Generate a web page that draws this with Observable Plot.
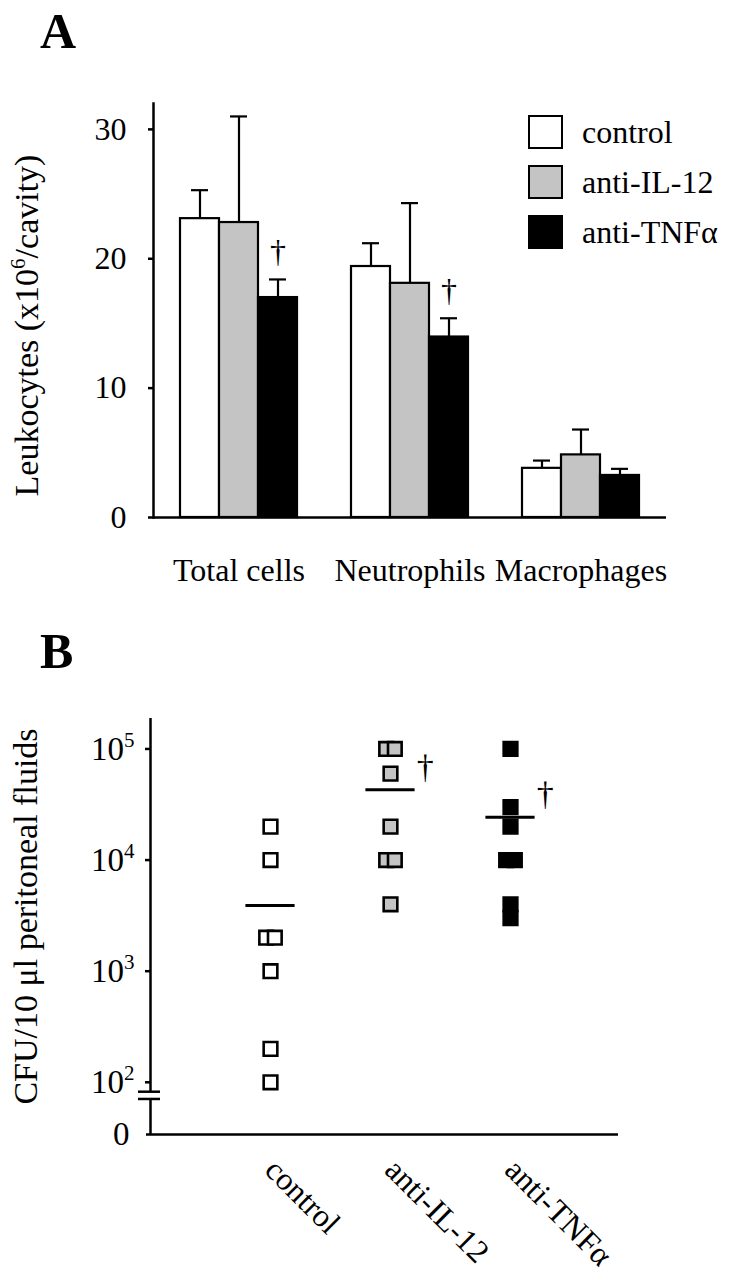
<!DOCTYPE html>
<html>
<head>
<meta charset="utf-8">
<script src="https://cdn.jsdelivr.net/npm/d3@7"></script>
<script src="https://cdn.jsdelivr.net/npm/@observablehq/plot@0.6"></script>
<style>
  html, body { margin: 0; padding: 0; background: white; }
  #page { position: relative; width: 733px; height: 1280px; background: white; overflow: hidden;
          font-family: "Liberation Serif", "Times New Roman", serif; color: black; }
  .panel-letter { position: absolute; left: 40px; font-weight: bold; font-size: 50px; line-height: 1; }
  #chartA, #chartB { position: absolute; left: 0; }
  #chartA { top: 0; }
  #chartB { top: 620px; }
  #legend { position: absolute; left: 528px; top: 115px; }
  .lg-row { display: flex; align-items: flex-start; height: 50px; }
  .lg-sw { width: 35px; height: 34px; box-sizing: border-box; border: 2.5px solid black; }
  .lg-tx { margin-left: 19px; font-size: 32px; line-height: 34px; }
  svg g[aria-label$="-axis tick"], svg g[aria-label$="-axis tick"] * { stroke-width: 2.5px; }
  svg g[aria-label="frame"], svg g[aria-label="frame"] * { stroke-width: 2.5px; }
</style>
</head>
<body>
<div id="page">
  <div class="panel-letter" style="top:6px">A</div>
  <div class="panel-letter" style="top:626px">B</div>
  <div id="chartA"></div>
  <div id="legend"></div>
  <div id="chartB"></div>
</div>
<script>
// ---------- Panel A data ----------
const cellTypes = ["Total cells", "Neutrophils", "Macrophages"];
const treatments = ["control", "anti-IL-12", "anti-TNFα"];
const treatmentFills = ["white", "#c4c4c4", "black"];
const meanTotal = [23.1, 22.8, 17.0];
const errTotal = [2.2, 8.2, 1.4];
const meanNeut = [19.4, 18.1, 13.95];
const errNeut = [1.8, 6.2, 1.45];
const meanMac = [3.8, 4.84, 3.25];
const errMac = [0.6, 1.96, 0.51];
const daggerCellTypes = ["Total cells", "Neutrophils"]; // anti-TNFα significant
const yTicksA = [0, 10, 20, 30];
const yLabelA = "Leukocytes (x10^6/cavity)";

// ---------- Panel B data ----------
const cfuGroups = ["control", "anti-IL-12", "anti-TNFα"];
const cfuControl = [20000, 10000, 2000, 2000, 1000, 200, 100];
const cfuIL12 = [100000, 100000, 60000, 20000, 10000, 10000, 4000];
const cfuTNF = [100000, 30000, 20000, 10000, 10000, 4000, 3000];
const cfuMean = [3900, 43000, 24300];
const cfuDagger = [false, true, true];
const yTicksB = [100, 1000, 10000, 100000];
const yLabelB = "CFU/10 μl peritoneal fluids";

const FONT = '"Liberation Serif", "Times New Roman", serif';

// strip Plot's label arrows and turn "a^6b" into text with a raised tspan
function superscriptify(svg) {
  d3.select(svg).selectAll("text").each(function () {
    if (this.querySelector("tspan")) return;
    let s = this.textContent;
    const stripped = s.replace(/\s*[→↑←↓]\s*/g, "");
    if (stripped !== s) { s = stripped; this.textContent = s; }
    const m = s.match(/^(.*?)\^(\d+)(.*)$/);
    if (!m) return;
    const t = d3.select(this);
    t.text(null);
    t.append("tspan").text(m[1]);
    t.append("tspan").attr("dy", "-13").attr("font-size", "21px").text(m[2]);
    if (m[3]) t.append("tspan").attr("dy", "13").text(m[3]);
  });
}

// ---------- Panel A ----------
const meansA = [meanTotal, meanNeut, meanMac];
const errsA = [errTotal, errNeut, errMac];
const rowsA = [];
cellTypes.forEach((g, gi) => treatments.forEach((t, ti) => {
  rowsA.push({group: g, treatment: t, mean: meansA[gi][ti], top: meansA[gi][ti] + errsA[gi][ti]});
}));
const daggerRowsA = rowsA.filter(d => d.treatment === "anti-TNFα" && daggerCellTypes.includes(d.group));

const chartA = Plot.plot({
  width: 733, height: 620,
  marginTop: 103, marginBottom: 103, marginLeft: 152, marginRight: 66,
  style: {fontFamily: FONT, fontSize: "32px", color: "black", background: "transparent"},
  fx: {domain: cellTypes, padding: 0, label: null, tickSize: 0, tickPadding: 41},
  x: {domain: treatments, paddingInner: 0, paddingOuter: 0.68, axis: null},
  y: {domain: [0, 32], ticks: yTicksA, tickSize: 5, tickPadding: 22, line: true,
      label: yLabelA, labelAnchor: "center", labelOffset: 140},
  color: {domain: treatments, range: treatmentFills},
  marks: [
    Plot.ruleY([0], {strokeWidth: 2.5}),
    Plot.ruleX(rowsA, {fx: "group", x: "treatment", y1: "mean", y2: "top", stroke: "black", strokeWidth: 2.2}),
    Plot.tickY(rowsA, {fx: "group", x: "treatment", y: "top", stroke: "black", strokeWidth: 2.2, insetLeft: 11, insetRight: 11}),
    Plot.barY(rowsA, {fx: "group", x: "treatment", y: "mean", fill: "treatment", stroke: "black", strokeWidth: 2.2}),
    Plot.text(daggerRowsA, {fx: "group", x: "treatment", y: "top", text: () => "†", lineAnchor: "bottom", dy: -17, fontSize: 32})
  ]
});
document.getElementById("chartA").append(chartA);
superscriptify(chartA);
d3.select(chartA).selectAll('g[aria-label="y-axis label"] text').attr("font-size", "34px").attr("dx", "-15");

// legend (HTML, same colours as the colour scale)
const legend = d3.select("#legend");
treatments.forEach((t, i) => {
  const row = legend.append("div").attr("class", "lg-row");
  row.append("div").attr("class", "lg-sw").style("background", treatmentFills[i]);
  row.append("div").attr("class", "lg-tx").text(t);
});

// ---------- Panel B ----------
const yMinB = 33.9, yMaxB = 1.88e5;
const breakHi = 82.3, breakLo = 70.8;
const xMinB = -1, xMaxB = 2.9;
const pointsB = [];
[cfuControl, cfuIL12, cfuTNF].forEach((vals, gi) => {
  const counts = d3.rollup(vals, v => v.length, v => v);
  const seen = new Map();
  vals.forEach(v => {
    const k = counts.get(v);
    const j = seen.get(v) || 0;
    seen.set(v, j + 1);
    pointsB.push({group: cfuGroups[gi], gi, value: v, pos: gi + (j - (k - 1) / 2) * 0.072});
  });
});
const meanRowsB = cfuGroups.map((g, gi) => ({group: g, gi, mean: cfuMean[gi], dagger: cfuDagger[gi]}));

const chartB = Plot.plot({
  width: 733, height: 660,
  marginTop: 98, marginBottom: 146, marginLeft: 150, marginRight: 115,
  style: {fontFamily: FONT, fontSize: "32px", color: "black", background: "transparent"},
  x: {domain: [xMinB, xMaxB], axis: null},
  y: {type: "log", domain: [yMinB, yMaxB], axis: null},
  color: {domain: cfuGroups, range: treatmentFills},
  marks: [
    Plot.axisY({ticks: yTicksB, tickFormat: d => "10^" + Math.round(Math.log10(d)),
                tickSize: 5, tickPadding: 11, fontSize: 33, label: yLabelB, labelAnchor: "center", labelOffset: 138}),
    // "0" label at the foot of the broken axis
    Plot.text([yMinB], {x: xMinB, y: d => d, text: () => "0", textAnchor: "end", dx: -21, fontSize: 33}),
    Plot.axisX({ticks: [0, 1, 2], tickFormat: i => cfuGroups[i], tickRotate: 45, tickSize: 0, tickPadding: 30, label: null, fontSize: 32}),
    // broken y-axis line
    Plot.ruleX([{y1: yMaxB, y2: breakHi}, {y1: breakLo, y2: yMinB}], {x: xMinB, y1: "y1", y2: "y2", strokeWidth: 2.5}),
    Plot.ruleY([breakHi, breakLo], {x1: xMinB, x2: xMinB, insetLeft: -12, insetRight: -10, strokeWidth: 2.5}),
    // x-axis line
    Plot.ruleY([yMinB], {strokeWidth: 2.5, insetLeft: -4}),
    // points
    Plot.dot(pointsB, {x: "pos", y: "value", symbol: "square", r: 7.7, fill: "group", stroke: "black", strokeWidth: 2.6}),
    // means
    Plot.ruleY(meanRowsB, {y: "mean", x1: d => d.gi - 0.205, x2: d => d.gi + 0.205, strokeWidth: 3}),
    Plot.text(meanRowsB.filter(d => d.dagger), {x: d => d.gi + 0.29, y: "mean", text: () => "†", lineAnchor: "bottom", dy: -12, fontSize: 34})
  ]
});
document.getElementById("chartB").append(chartB);
superscriptify(chartB);
d3.select(chartB).selectAll('g[aria-label="y-axis label"] text').attr("font-size", "34px").attr("dx", "10");
</script>
</body>
</html>
